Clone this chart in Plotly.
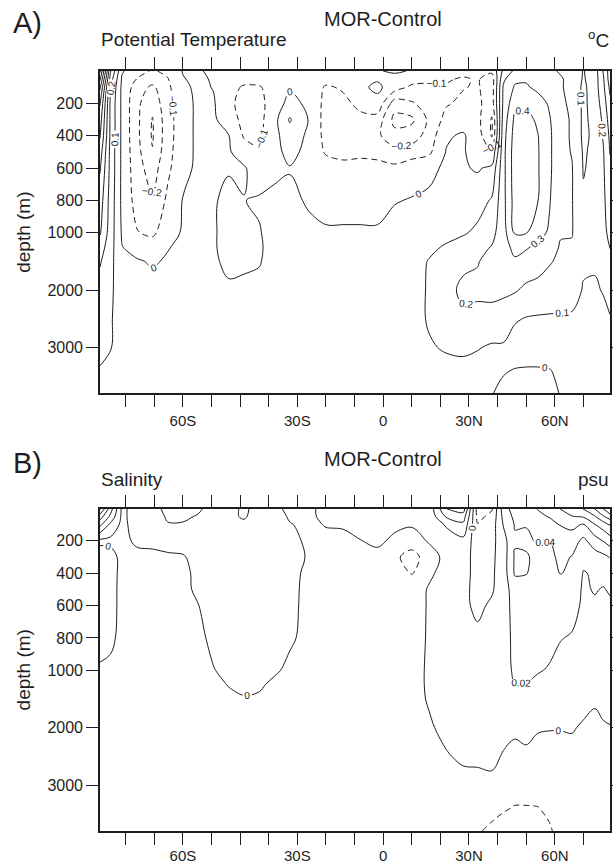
import plotly.graph_objects as go

# ---------------- data ----------------
# grid columns (latitude, deg; negative = south) and rows (depth, m)
LAT = [-81.75, -79, -76, -72, -68, -64, -60, -56, -52, -48, -44, -40, -36, -32,
       -26, -20, -14, -8, -2, 4, 10, 16, 22, 28, 33, 38, 42, 46, 50, 54, 58,
       62, 66, 70, 74, 77, 79.3]
DEPTH = [0, 50, 100, 200, 300, 400, 500, 600, 800, 1000, 1250, 1500, 2000,
         2500, 3000, 3400, 3800]

# Potential temperature difference (MOR - Control), degC; one list per latitude (top -> bottom)
TEMP_COLUMNS = [
    [0.92, 0.82, 0.72, 0.61, 0.55, 0.51, 0.45, 0.41, 0.35, 0.31, 0.25, 0.21, 0.16, 0.13, 0.12, 0.095, 0.07],
    [0.31, 0.25, 0.21, 0.18, 0.18, 0.18, 0.17, 0.17, 0.16, 0.15, 0.14, 0.13, 0.12, 0.11, 0.105, 0.07, 0.05],
    [0.01, -0.01, -0.02, -0.02, -0.02, -0.02, -0.02, -0.02, -0.02, -0.01, 0.003, 0.02, 0.04, 0.05, 0.06, 0.05, 0.05],
    [-0.06, -0.105, -0.15, -0.18, -0.18, -0.18, -0.17, -0.16, -0.14, -0.095, -0.04, 0.01, 0.04, 0.05, 0.05, 0.05, 0.04],
    [-0.11, -0.15, -0.22, -0.27, -0.305, -0.31, -0.295, -0.25, -0.19, -0.12, -0.05, -0.01, 0.03, 0.05, 0.05, 0.05, 0.04],
    [-0.08, -0.105, -0.12, -0.13, -0.14, -0.14, -0.13, -0.12, -0.08, -0.04, -0.005, 0.01, 0.03, 0.04, 0.04, 0.04, 0.04],
    [0.005, -0.005, -0.02, -0.04, -0.04, -0.04, -0.04, -0.03, 0.005, 0.01, 0.02, 0.03, 0.03, 0.04, 0.04, 0.04, 0.04],
    [0.01, 0.02, 0.02, 0.02, 0.02, 0.02, 0.02, 0.02, 0.02, 0.03, 0.03, 0.03, 0.03, 0.04, 0.04, 0.04, 0.04],
    [-0.02, -0.01, -0.004, 0.01, 0.015, 0.015, 0.015, 0.012, 0.006, 0.006, 0.006, 0.01, 0.02, 0.03, 0.04, 0.04, 0.04],
    [-0.03, -0.05, -0.07, -0.08, -0.05, 0.003, 0.01, 0.005, -0.015, -0.02, -0.02, -0.015, 0.01, 0.03, 0.04, 0.04, 0.04],
    [-0.03, -0.07, -0.11, -0.13, -0.13, -0.11, -0.05, 0.01, -0.002, -0.02, -0.02, -0.012, 0.015, 0.03, 0.04, 0.04, 0.04],
    [-0.02, -0.06, -0.11, -0.13, -0.13, -0.12, -0.09, -0.05, 0.01, -0.005, -0.01, -0.005, 0.02, 0.03, 0.04, 0.04, 0.04],
    [-0.02, -0.04, -0.05, -0.05, -0.03, -0.03, -0.03, -0.02, 0.02, 0.03, 0.03, 0.03, 0.03, 0.03, 0.04, 0.04, 0.04],
    [-0.02, -0.02, -0.01, 0.03, 0.11, 0.06, 0.03, -0.005, 0.02, 0.03, 0.03, 0.03, 0.03, 0.03, 0.04, 0.04, 0.04],
    [-0.03, -0.04, -0.04, -0.02, -0.005, -0.02, -0.03, -0.03, -0.01, 0.02, 0.03, 0.03, 0.03, 0.03, 0.04, 0.04, 0.04],
    [-0.04, -0.07, -0.11, -0.13, -0.14, -0.13, -0.11, -0.06, -0.03, 0.01, 0.02, 0.03, 0.03, 0.03, 0.04, 0.04, 0.04],
    [-0.04, -0.07, -0.09, -0.12, -0.13, -0.13, -0.12, -0.08, -0.03, 0.01, 0.02, 0.03, 0.03, 0.03, 0.04, 0.04, 0.04],
    [-0.03, -0.03, -0.02, -0.08, -0.12, -0.13, -0.12, -0.07, -0.03, 0.01, 0.02, 0.03, 0.03, 0.04, 0.04, 0.04, 0.04],
    [-0.01, -0.01, 0.02, -0.03, -0.14, -0.18, -0.13, -0.07, -0.03, 0.01, 0.02, 0.03, 0.04, 0.04, 0.04, 0.04, 0.04],
    [0.02, -0.05, -0.05, -0.25, -0.33, -0.27, -0.16, -0.08, -0.005, 0.03, 0.04, 0.05, 0.06, 0.05, 0.04, 0.04, 0.04],
    [-0.01, -0.06, -0.12, -0.21, -0.32, -0.25, -0.15, -0.04, 0.005, 0.03, 0.05, 0.06, 0.06, 0.06, 0.05, 0.04, 0.04],
    [-0.05, -0.08, -0.12, -0.16, -0.18, -0.16, -0.12, -0.03, 0.02, 0.05, 0.08, 0.105, 0.11, 0.11, 0.09, 0.06, 0.05],
    [-0.06, -0.09, -0.11, -0.11, -0.07, -0.01, 0.003, 0.02, 0.04, 0.07, 0.11, 0.15, 0.17, 0.15, 0.11, 0.07, 0.05],
    [-0.07, -0.11, -0.105, -0.08, -0.04, 0.01, 0.01, 0.01, 0.04, 0.09, 0.14, 0.18, 0.22, 0.18, 0.12, 0.07, 0.05],
    [-0.05, -0.09, -0.09, -0.08, -0.07, -0.05, -0.05, -0.01, 0.06, 0.12, 0.17, 0.195, 0.22, 0.17, 0.105, 0.07, 0.02],
    [-0.08, -0.15, -0.15, -0.15, -0.21, -0.21, -0.09, 0.02, 0.11, 0.17, 0.205, 0.23, 0.23, 0.16, 0.09, 0.05, 0.005],
    [0.12, 0.18, 0.21, 0.22, 0.24, 0.26, 0.27, 0.27, 0.27, 0.26, 0.27, 0.25, 0.22, 0.15, 0.09, 0.01, -0.03],
    [0.22, 0.28, 0.31, 0.37, 0.42, 0.44, 0.45, 0.45, 0.44, 0.41, 0.32, 0.29, 0.21, 0.11, 0.06, -0.005, -0.04],
    [0.25, 0.29, 0.31, 0.37, 0.44, 0.47, 0.48, 0.48, 0.46, 0.405, 0.31, 0.26, 0.18, 0.095, 0.06, -0.01, -0.04],
    [0.25, 0.27, 0.28, 0.34, 0.38, 0.405, 0.41, 0.41, 0.405, 0.33, 0.28, 0.24, 0.17, 0.09, 0.06, -0.01, -0.04],
    [0.22, 0.24, 0.25, 0.29, 0.31, 0.32, 0.32, 0.32, 0.31, 0.29, 0.25, 0.21, 0.15, 0.09, 0.06, -0.005, -0.03],
    [0.19, 0.21, 0.21, 0.22, 0.23, 0.23, 0.23, 0.23, 0.22, 0.21, 0.19, 0.18, 0.14, 0.09, 0.06, 0.02, 0.005],
    [0.16, 0.17, 0.17, 0.18, 0.19, 0.19, 0.195, 0.205, 0.205, 0.205, 0.19, 0.16, 0.13, 0.09, 0.06, 0.03, 0.02],
    [0.095, 0.09, 0.08, 0.08, 0.08, 0.08, 0.09, 0.095, 0.11, 0.12, 0.12, 0.11, 0.095, 0.08, 0.06, 0.04, 0.03],
    [0.15, 0.15, 0.15, 0.14, 0.13, 0.12, 0.12, 0.12, 0.13, 0.13, 0.12, 0.11, 0.09, 0.07, 0.05, 0.04, 0.03],
    [0.31, 0.29, 0.28, 0.25, 0.22, 0.21, 0.195, 0.19, 0.18, 0.17, 0.15, 0.12, 0.105, 0.08, 0.05, 0.04, 0.03],
    [0.45, 0.45, 0.42, 0.38, 0.35, 0.32, 0.305, 0.28, 0.26, 0.23, 0.205, 0.16, 0.13, 0.095, 0.06, 0.04, 0.03],
]

# Salinity difference (MOR - Control), psu; one list per latitude (top -> bottom)
SALT_COLUMNS = [
    [0.105, 0.07, 0.045, -0.005, 0.012, 0.015, 0.015, 0.015, 0.012, -0.004, -0.008, -0.008, -0.008, -0.008, -0.008, -0.008, -0.008],
    [0.05, 0.035, 0.015, -0.005, 0.008, 0.01, 0.01, 0.01, 0.006, -0.006, -0.008, -0.008, -0.008, -0.008, -0.008, -0.008, -0.008],
    [-0.004, -0.004, -0.005, -0.006, -0.006, -0.007, -0.008, -0.008, -0.008, -0.008, -0.008, -0.008, -0.008, -0.008, -0.008, -0.008, -0.008],
    [0.008, 0.008, 0.008, 0.004, -0.006, -0.008, -0.008, -0.008, -0.008, -0.008, -0.008, -0.008, -0.008, -0.008, -0.008, -0.008, -0.008],
    [0.015, 0.012, 0.01, 0.006, -0.006, -0.008, -0.008, -0.008, -0.008, -0.008, -0.008, -0.008, -0.008, -0.008, -0.008, -0.008, -0.008],
    [0.024, 0.022, 0.019, 0.01, -0.004, -0.008, -0.008, -0.008, -0.008, -0.008, -0.008, -0.008, -0.008, -0.008, -0.008, -0.008, -0.008],
    [0.024, 0.022, 0.019, 0.01, -0.002, -0.007, -0.008, -0.008, -0.008, -0.008, -0.008, -0.008, -0.008, -0.008, -0.008, -0.008, -0.008],
    [0.022, 0.019, 0.016, 0.012, 0.008, 0.007, 0.006, -0.0005, -0.006, -0.008, -0.008, -0.008, -0.008, -0.008, -0.008, -0.008, -0.008],
    [0.015, 0.012, 0.01, 0.009, 0.008, 0.008, 0.008, 0.007, 0.006, -0.001, -0.006, -0.008, -0.008, -0.008, -0.008, -0.008, -0.008],
    [0.008, 0.004, 0.006, 0.008, 0.008, 0.008, 0.008, 0.008, 0.008, 0.006, 0.001, -0.005, -0.008, -0.008, -0.008, -0.008, -0.008],
    [-0.004, -0.002, 0.004, 0.008, 0.008, 0.008, 0.008, 0.008, 0.008, 0.008, 0.006, -0.002, -0.008, -0.008, -0.008, -0.008, -0.008],
    [0.008, 0.008, 0.008, 0.008, 0.008, 0.008, 0.008, 0.008, 0.008, 0.008, 0.004, -0.004, -0.008, -0.008, -0.008, -0.008, -0.008],
    [0.004, 0.008, 0.008, 0.008, 0.008, 0.008, 0.008, 0.008, 0.008, 0.004, -0.006, -0.008, -0.008, -0.008, -0.008, -0.008, -0.008],
    [-0.004, -0.002, 0.001, 0.006, 0.008, 0.008, 0.008, 0.007, 0.004, -0.006, -0.008, -0.008, -0.008, -0.008, -0.008, -0.008, -0.008],
    [-0.004, -0.004, -0.004, -0.004, -0.002, -0.006, -0.008, -0.008, -0.008, -0.008, -0.008, -0.008, -0.008, -0.008, -0.008, -0.008, -0.008],
    [0.006, 0.005, 0.001, -0.005, -0.008, -0.008, -0.008, -0.008, -0.008, -0.008, -0.008, -0.008, -0.008, -0.008, -0.008, -0.008, -0.008],
    [0.006, 0.006, 0.002, -0.005, -0.008, -0.008, -0.008, -0.008, -0.008, -0.008, -0.008, -0.008, -0.008, -0.008, -0.008, -0.008, -0.008],
    [0.006, 0.006, 0.005, -0.0005, -0.006, -0.008, -0.008, -0.008, -0.008, -0.008, -0.008, -0.008, -0.008, -0.008, -0.008, -0.008, -0.008],
    [0.006, 0.006, 0.006, 0.004, -0.006, -0.008, -0.008, -0.008, -0.008, -0.008, -0.008, -0.008, -0.008, -0.008, -0.008, -0.008, -0.008],
    [0.006, 0.003, 0.004, -0.004, -0.016, -0.012, -0.008, -0.008, -0.008, -0.008, -0.008, -0.008, -0.008, -0.008, -0.008, -0.008, -0.008],
    [0.004, 0.002, 0.002, -0.01, -0.028, -0.021, -0.012, -0.01, -0.008, -0.008, -0.008, -0.008, -0.008, -0.008, -0.008, -0.008, -0.008],
    [0.006, 0.006, 0.005, 0.002, -0.01, -0.004, 0.002, 0.002, 0.002, 0.003, 0.003, 0.002, -0.003, -0.008, -0.008, -0.008, -0.008],
    [0.06, 0.042, 0.022, 0.01, 0.006, 0.008, 0.008, 0.008, 0.008, 0.008, 0.008, 0.008, 0.006, -0.002, -0.008, -0.008, -0.008],
    [0.07, 0.05, 0.035, 0.015, 0.008, 0.006, 0.004, 0.004, 0.006, 0.008, 0.008, 0.008, 0.008, 0.004, -0.008, -0.008, -0.01],
    [-0.03, -0.025, -0.019, -0.012, -0.008, -0.006, -0.005, -0.004, 0.004, 0.008, 0.008, 0.008, 0.008, 0.005, -0.008, -0.012, -0.018],
    [-0.022, -0.015, -0.01, -0.006, -0.004, -0.003, -0.002, 0.003, 0.008, 0.008, 0.008, 0.008, 0.008, 0.006, -0.006, -0.014, -0.024],
    [0.03, 0.025, 0.021, 0.012, 0.01, 0.01, 0.01, 0.01, 0.01, 0.01, 0.01, 0.01, 0.008, -0.002, -0.01, -0.018, -0.028],
    [0.05, 0.045, 0.041, 0.038, 0.042, 0.042, 0.03, 0.028, 0.026, 0.024, 0.0195, 0.014, 0.004, -0.006, -0.012, -0.021, -0.03],
    [0.05, 0.045, 0.041, 0.036, 0.042, 0.041, 0.03, 0.028, 0.026, 0.024, 0.0195, 0.017, 0.006, -0.004, -0.012, -0.021, -0.03],
    [0.061, 0.055, 0.05, 0.042, 0.035, 0.032, 0.03, 0.028, 0.025, 0.021, 0.017, 0.014, 0.002, -0.008, -0.012, -0.0205, -0.028],
    [0.07, 0.061, 0.05, 0.039, 0.034, 0.03, 0.028, 0.026, 0.024, 0.019, 0.015, 0.012, 0.001, -0.008, -0.01, -0.017, -0.022],
    [0.081, 0.07, 0.061, 0.05, 0.045, 0.041, 0.03, 0.025, 0.0205, 0.016, 0.013, 0.01, 0.001, -0.008, -0.008, -0.01, -0.015],
    [0.09, 0.079, 0.065, 0.05, 0.039, 0.035, 0.028, 0.024, 0.019, 0.016, 0.013, 0.01, 0.002, -0.008, -0.008, -0.008, -0.008],
    [0.101, 0.082, 0.058, 0.035, 0.025, 0.019, 0.018, 0.018, 0.017, 0.015, 0.012, 0.008, -0.003, -0.008, -0.008, -0.008, -0.008],
    [0.121, 0.098, 0.079, 0.051, 0.031, 0.022, 0.021, 0.018, 0.015, 0.012, 0.01, 0.004, -0.008, -0.008, -0.008, -0.008, -0.008],
    [0.141, 0.118, 0.09, 0.061, 0.035, 0.025, 0.019, 0.016, 0.013, 0.01, 0.008, 0.006, -0.002, -0.008, -0.008, -0.008, -0.008],
    [0.161, 0.13, 0.101, 0.07, 0.041, 0.028, 0.022, 0.017, 0.014, 0.012, 0.01, 0.008, -0.001, -0.008, -0.008, -0.008, -0.008],
]

LAT_TICKS = [-75, -67.5, -60, -52.5, -45, -37.5, -30, -20, -10, 0, 10, 20, 30, 40, 50, 60, 70]
LAT_TICK_TEXT = ["", "", "60S", "", "", "", "30S", "", "", "0", "", "", "30N", "", "", "60N", ""]
DEPTH_TICKS = [200, 400, 600, 800, 1000, 2000, 3000]
DEPTH_TICK_TEXT = ["200", "400", "600", "800", "1000", "2000", "3000"]
LAT_RANGE = [-81.75, 79.3]
DEPTH_RANGE = [3802, 0]


# ---------------- axis transforms (stretched south, compressed deep) ----------------
def lat_to_axis(lat):
    return lat if lat >= -30 else -30 + (lat + 30) * 4.0 / 3.0


def depth_to_axis(d):
    return d if d <= 1000 else 1000 + (d - 1000) * 0.3543


def to_rows(cols):
    return [list(r) for r in zip(*cols)]


FONT = "Liberation Sans, Arial, Helvetica, sans-serif"
INK = "#1e1e1e"
x_ax = [lat_to_axis(v) for v in LAT]
y_ax = [depth_to_axis(d) for d in DEPTH]

fig = go.Figure()


def add_panel(cols, step, neg_start, pos_end, xa, ya):
    z = to_rows(cols)
    for start, end, dash in [(neg_start, -step, "6px,4px"), (0.0, pos_end, "solid")]:
        fig.add_trace(go.Contour(
            x=x_ax, y=y_ax, z=z, xaxis=xa, yaxis=ya,
            autocontour=False,
            contours=dict(start=start, end=end, size=step, coloring="none",
                          showlabels=True,
                          labelfont=dict(size=10, color=INK, family=FONT)),
            line=dict(color=INK, width=1, dash=dash, smoothing=1.0),
            showscale=False, hoverinfo="skip",
        ))


add_panel(TEMP_COLUMNS, 0.1, -0.5, 1.0, "x", "y")
add_panel(SALT_COLUMNS, 0.02, -0.2, 0.3, "x2", "y2")

# ---------------- layout ----------------
L, R, T, B = 100, 3, 71, 34
W, H = 613, 865
PW, PH = W - L - R, H - T - B


def px(xp):
    return (xp - L) / PW


def py(yp):
    return (H - B - yp) / PH


def xaxis_cfg(standoff):
    return dict(
        range=[lat_to_axis(LAT_RANGE[0]), lat_to_axis(LAT_RANGE[1])],
        tickmode="array", tickvals=[lat_to_axis(v) for v in LAT_TICKS], ticktext=LAT_TICK_TEXT,
        ticks="outside", ticklen=12, tickwidth=1.2, tickcolor=INK,
        showline=True, linewidth=1.6, linecolor=INK, mirror="ticks",
        showgrid=False, zeroline=False, tickfont=dict(size=15, color=INK, family=FONT),
        ticklabelstandoff=standoff,
    )


ycommon = dict(
    range=[depth_to_axis(DEPTH_RANGE[0]), depth_to_axis(DEPTH_RANGE[1])],
    tickmode="array", tickvals=[depth_to_axis(v) for v in DEPTH_TICKS], ticktext=DEPTH_TICK_TEXT,
    ticks="outside", ticklen=12, tickwidth=1.2, tickcolor=INK,
    showline=True, linewidth=1.6, linecolor=INK, mirror="ticks",
    showgrid=False, zeroline=False, tickfont=dict(size=16, color=INK, family=FONT),
    title=dict(text="depth (m)", font=dict(size=19, color=INK, family=FONT), standoff=12),
)

fig.update_layout(
    width=W, height=H, margin=dict(l=L, r=R, t=T, b=B, autoexpand=False),
    paper_bgcolor="white", plot_bgcolor="white", showlegend=False,
    font=dict(family=FONT, color=INK),
    xaxis=dict(domain=[0, 1], anchor="y", **xaxis_cfg(1)),
    yaxis=dict(domain=[py(393.3), 1], anchor="x", **ycommon),
    xaxis2=dict(domain=[0, 1], anchor="y2", **xaxis_cfg(-2)),
    yaxis2=dict(domain=[0, py(508.5)], anchor="x2", **ycommon),
)

ann = []
for off, sub, unit, letter in [(0, "Potential Temperature", "<sup>o</sup>C", "A)"),
                               (440, "Salinity", "psu", "B)")]:
    ann.append(dict(text=letter, x=px(27), y=py(23 + off), xanchor="center", yanchor="middle",
                    font=dict(size=29, color=INK, family=FONT)))
    ann.append(dict(text="MOR-Control", x=px(383), y=py(19 + off), xanchor="center", yanchor="middle",
                    font=dict(size=20, color=INK, family=FONT)))
    ann.append(dict(text=sub, x=px(99), y=py(39 + off), xanchor="left", yanchor="middle",
                    font=dict(size=19, color=INK, family=FONT)))
    ann.append(dict(text=unit, x=px(611), y=py(39 + off), xanchor="right", yanchor="middle",
                    font=dict(size=19, color=INK, family=FONT)))
for a in ann:
    a.update(xref="paper", yref="paper", showarrow=False)
fig.update_layout(annotations=ann)

fig.write_html("out.html")
